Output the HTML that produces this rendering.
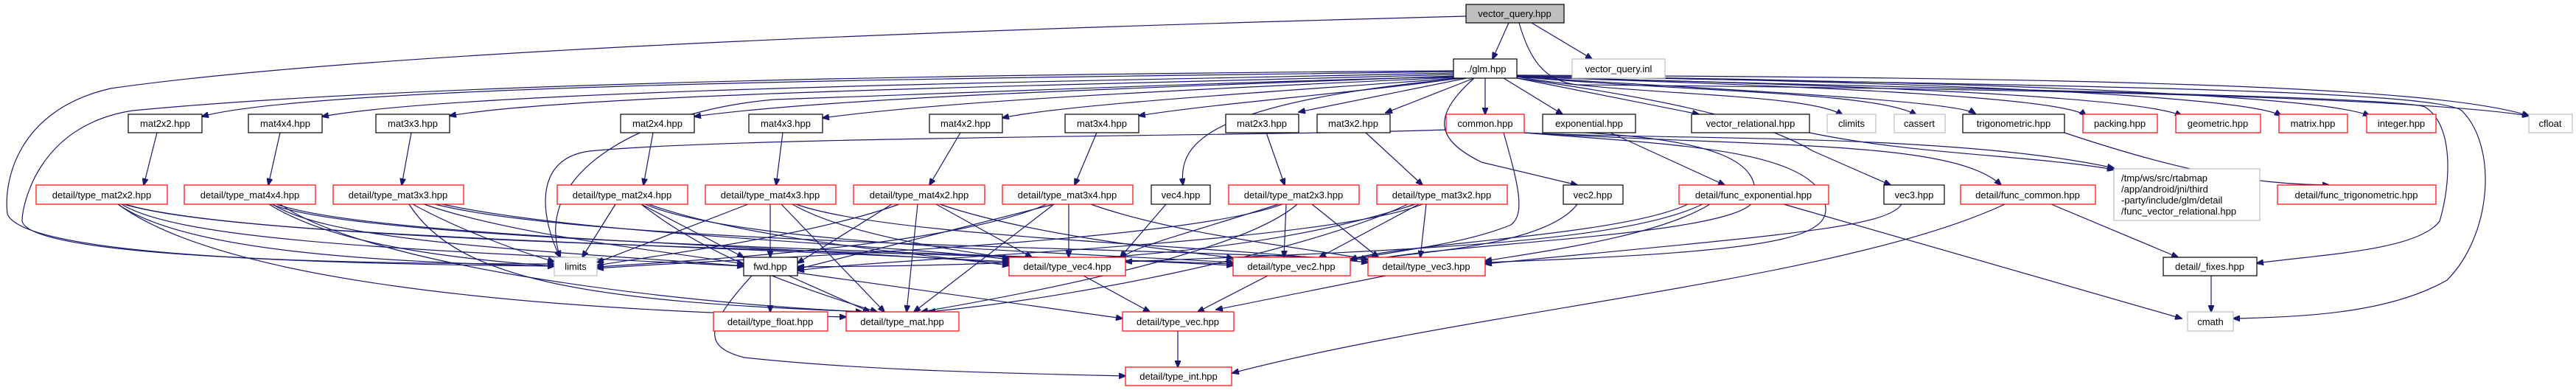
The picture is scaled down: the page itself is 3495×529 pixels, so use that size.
<!DOCTYPE html>
<html><head><meta charset="utf-8"><style>
html,body{margin:0;padding:0;background:#fff;}
svg{display:block;}
text{font-family:"Liberation Sans","DejaVu Sans",sans-serif;font-size:13px;fill:#000;}
.e{fill:none;stroke:#191970;stroke-width:1.2;}
.b{fill:#fff;stroke:#000;stroke-width:1.2;}
.r{fill:#fff;stroke:#ff0000;stroke-width:1.2;}
.g{fill:#fff;stroke:#bfbfbf;stroke-width:1.2;}
</style></head><body>
<svg width="3495" height="529" viewBox="0 0 3495 529" xmlns="http://www.w3.org/2000/svg">
<defs><marker id="a" markerWidth="10" markerHeight="8" refX="9" refY="4" orient="auto" markerUnits="userSpaceOnUse"><path d="M0,0 L10,4 L0,8z" fill="#191970" stroke="#191970"/></marker></defs>
<g marker-end="url(#a)" class="e">
<path class="e" d="M2047,31 L2025,80"/>
<path class="e" d="M2078,31 L2160,80"/>
<path class="e" d="M1989,22 C1300,40 500,70 150,120 C20,150 5,250 10,290 C30,345 400,358 752,361"/>
<path class="e" d="M2061,31 C2075,80 2095,110 2140,115 C2700,120 3250,130 3431,157"/>
<path class="e" d="M1972,97 C1500,105 450,110 274,158"/>
<path class="e" d="M1972,99 C1500,110 650,120 437,158"/>
<path class="e" d="M1972,101 C1500,115 800,125 610,157"/>
<path class="e" d="M1972,103 C1600,118 1150,130 942,158"/>
<path class="e" d="M1972,105 C1650,120 1300,135 1116,160"/>
<path class="e" d="M1975,106 C1800,120 1450,140 1360,160"/>
<path class="e" d="M1980,106 C1850,125 1650,140 1545,157"/>
<path class="e" d="M1990,106 L1762,152"/>
<path class="e" d="M2000,106 L1880,153"/>
<path class="e" d="M2015,106 L2015,155"/>
<path class="e" d="M2040,106 L2120,155"/>
<path class="e" d="M2058,106 L2305,155"/>
<path class="e" d="M2058,104 C2200,130 2450,125 2500,156"/>
<path class="e" d="M2058,104 C2300,125 2550,125 2600,156"/>
<path class="e" d="M2058,104 C2300,120 2650,135 2680,154"/>
<path class="e" d="M2058,104 C2400,115 2800,130 2830,157"/>
<path class="e" d="M2058,104 C2500,115 2900,130 2960,157"/>
<path class="e" d="M2058,103 C2600,110 3050,130 3095,157"/>
<path class="e" d="M2058,103 C2700,110 3150,130 3215,157"/>
<path class="e" d="M2058,102 C2800,105 3300,115 3431,157"/>
<path class="e" d="M1972,96 C1400,100 600,110 180,150 C50,170 30,280 30,300 C40,345 400,358 752,358"/>
<path class="e" d="M1980,104 C1700,110 1200,130 1050,135 C880,150 720,230 760,349"/>
<path class="e" d="M1985,106 C1620,140 1600,200 1605,251"/>
<path class="e" d="M2000,106 C1940,160 1950,190 2010,220 L2140,251"/>
<path class="e" d="M2058,106 C2300,140 2400,170 2460,205 L2565,251"/>
<path class="e" d="M2058,104 C2600,120 3250,130 3290,145 C3330,170 3325,250 3310,300 C3280,340 3150,345 3062,357"/>
<path class="e" d="M2058,103 C2700,115 3300,120 3340,150 C3390,200 3380,320 3320,380 C3250,420 3150,430 3030,432"/>
<path class="e" d="M213,180 L195,251"/>
<path class="e" d="M380,180 L364,251"/>
<path class="e" d="M558,180 L545,251"/>
<path class="e" d="M886,180 L873,251"/>
<path class="e" d="M1062,180 L1053,251"/>
<path class="e" d="M1303,180 L1261,251"/>
<path class="e" d="M1488,180 L1458,251"/>
<path class="e" d="M1718,180 L1743,251"/>
<path class="e" d="M1853,180 L1930,251"/>
<path class="e" d="M2185,180 L2340,251"/>
<path class="e" d="M2455,180 C2600,210 2750,210 2868,230"/>
<path class="e" d="M2801,180 C2950,230 3050,250 3160,251"/>
<path class="e" d="M1962,176 C1700,185 1000,185 800,205 C720,215 735,300 760,349"/>
<path class="e" d="M2068,180 C2250,190 2650,180 2868,228"/>
<path class="e" d="M2068,180 C2400,200 2650,190 2715,251"/>
<path class="e" d="M2068,180 C2250,195 2430,200 2470,260 C2500,320 2450,340 2015,356"/>
<path class="e" d="M2040,180 C2060,250 2070,290 2050,305 C1990,330 1900,340 1832,352"/>
<path class="e" d="M2150,180 C2330,190 2390,220 2380,270 C2370,320 1950,330 1856,354"/>
<path class="e" d="M2290,277 C2200,320 1900,330 1832,352"/>
<path class="e" d="M2310,277 C2200,330 1900,340 1527,355"/>
<path class="e" d="M2320,277 C2250,320 2100,340 2015,354"/>
<path class="e" d="M2420,277 L2960,432"/>
<path class="e" d="M2783,277 L2955,349"/>
<path class="e" d="M2720,277 C2500,380 2000,420 1672,506"/>
<path class="e" d="M3000,374 L3000,423"/>
<path class="e" d="M2140,277 C2100,330 1950,340 1856,352"/>
<path class="e" d="M2580,277 C2560,310 2400,320 2015,358"/>
<path class="e" d="M1582,277 L1520,349"/>
<path class="e" d="M160,277 C250,340 500,355 752,361"/>
<path class="e" d="M165,277 C250,330 600,340 1009,361"/>
<path class="e" d="M170,277 C300,320 900,330 1369,355"/>
<path class="e" d="M168,277 C350,330 1200,340 1673,358"/>
<path class="e" d="M160,277 C300,380 700,420 1148,430"/>
<path class="e" d="M365,277 C450,330 600,350 752,361"/>
<path class="e" d="M370,277 C450,330 750,340 1009,361"/>
<path class="e" d="M375,277 C500,320 1000,330 1369,357"/>
<path class="e" d="M368,277 C500,330 1300,340 1673,360"/>
<path class="e" d="M380,277 C500,360 900,410 1170,423"/>
<path class="e" d="M560,277 C620,310 700,340 752,355"/>
<path class="e" d="M575,277 C700,320 900,340 1009,358"/>
<path class="e" d="M600,277 C800,320 1200,330 1369,352"/>
<path class="e" d="M590,277 C800,330 1500,335 1856,352"/>
<path class="e" d="M555,277 C620,380 800,410 1180,423"/>
<path class="e" d="M835,277 L790,349"/>
<path class="e" d="M870,277 L1009,349"/>
<path class="e" d="M880,277 C1000,320 1200,340 1369,360"/>
<path class="e" d="M875,277 C1000,330 1400,340 1673,356"/>
<path class="e" d="M870,277 C950,340 1050,380 1190,423"/>
<path class="e" d="M1015,277 L810,356"/>
<path class="e" d="M1045,277 L1045,349"/>
<path class="e" d="M1060,277 L1200,423"/>
<path class="e" d="M1075,277 C1150,320 1300,340 1369,350"/>
<path class="e" d="M1080,277 C1200,320 1600,330 1856,356"/>
<path class="e" d="M1220,277 C1100,320 900,345 810,360"/>
<path class="e" d="M1210,277 L1082,357"/>
<path class="e" d="M1245,277 L1230,423"/>
<path class="e" d="M1270,277 L1400,349"/>
<path class="e" d="M1275,277 C1400,320 1600,340 1673,350"/>
<path class="e" d="M1420,277 C1300,330 1000,350 810,362"/>
<path class="e" d="M1430,277 L1082,365"/>
<path class="e" d="M1450,277 L1450,349"/>
<path class="e" d="M1430,277 L1240,423"/>
<path class="e" d="M1480,277 C1600,320 1800,340 1856,352"/>
<path class="e" d="M1740,277 C1600,330 1000,350 810,364"/>
<path class="e" d="M1745,277 L1742,349"/>
<path class="e" d="M1760,277 C1700,330 1500,380 1250,423"/>
<path class="e" d="M1780,277 L1870,349"/>
<path class="e" d="M1735,277 C1600,320 1500,345 1527,355"/>
<path class="e" d="M1930,277 C1800,330 1200,350 1082,367"/>
<path class="e" d="M1935,277 L1927,349"/>
<path class="e" d="M1925,277 L1790,349"/>
<path class="e" d="M1920,277 C1700,350 1400,360 1082,362"/>
<path class="e" d="M1910,277 C1800,330 1500,400 1260,423"/>
<path class="e" d="M1045,374 L1045,423"/>
<path class="e" d="M1070,374 L1180,423"/>
<path class="e" d="M1082,370 L1523,432"/>
<path class="e" d="M1020,374 C960,440 950,470 1010,485 C1150,500 1300,505 1527,510"/>
<path class="e" d="M1470,374 L1560,423"/>
<path class="e" d="M1720,374 L1625,423"/>
<path class="e" d="M1880,374 L1650,420"/>
<path class="e" d="M1598,449 L1598,498"/>
</g>
<rect x="1989" y="6" width="133" height="25" fill="#bfbfbf" stroke="#000" stroke-width="1.2"/><text x="2055" y="23" text-anchor="middle">vector_query.hpp</text>
<rect class="b" x="1972" y="80" width="86" height="26"/><text x="2015" y="98" text-anchor="middle">../glm.hpp</text>
<rect class="g" x="2133" y="80" width="126" height="26"/><text x="2196" y="98" text-anchor="middle">vector_query.inl</text>
<g>
<rect class="b" x="174" y="155" width="100" height="25"/><text x="224" y="172" text-anchor="middle">mat2x2.hpp</text>
<rect class="b" x="337" y="155" width="100" height="25"/><text x="387" y="172" text-anchor="middle">mat4x4.hpp</text>
<rect class="b" x="510" y="155" width="100" height="25"/><text x="560" y="172" text-anchor="middle">mat3x3.hpp</text>
<rect class="b" x="842" y="155" width="100" height="25"/><text x="892" y="172" text-anchor="middle">mat2x4.hpp</text>
<rect class="b" x="1016" y="155" width="100" height="25"/><text x="1066" y="172" text-anchor="middle">mat4x3.hpp</text>
<rect class="b" x="1261" y="155" width="99" height="25"/><text x="1310" y="172" text-anchor="middle">mat4x2.hpp</text>
<rect class="b" x="1445" y="155" width="100" height="25"/><text x="1495" y="172" text-anchor="middle">mat3x4.hpp</text>
<rect class="b" x="1663" y="155" width="99" height="25"/><text x="1712" y="172" text-anchor="middle">mat2x3.hpp</text>
<rect class="b" x="1787" y="155" width="99" height="25"/><text x="1836" y="172" text-anchor="middle">mat3x2.hpp</text>
<rect class="r" x="1962" y="155" width="106" height="25"/><text x="2015" y="172" text-anchor="middle">common.hpp</text>
<rect class="b" x="2093" y="155" width="126" height="25"/><text x="2156" y="172" text-anchor="middle">exponential.hpp</text>
<rect class="b" x="2295" y="155" width="160" height="25"/><text x="2375" y="172" text-anchor="middle">vector_relational.hpp</text>
<rect class="g" x="2479" y="155" width="66" height="25"/><text x="2512" y="172" text-anchor="middle">climits</text>
<rect class="g" x="2570" y="155" width="69" height="25"/><text x="2604" y="172" text-anchor="middle">cassert</text>
<rect class="b" x="2663" y="155" width="138" height="25"/><text x="2732" y="172" text-anchor="middle">trigonometric.hpp</text>
<rect class="r" x="2826" y="155" width="101" height="25"/><text x="2876" y="172" text-anchor="middle">packing.hpp</text>
<rect class="r" x="2952" y="155" width="115" height="25"/><text x="3009" y="172" text-anchor="middle">geometric.hpp</text>
<rect class="r" x="3092" y="155" width="93" height="25"/><text x="3138" y="172" text-anchor="middle">matrix.hpp</text>
<rect class="r" x="3211" y="155" width="94" height="25"/><text x="3258" y="172" text-anchor="middle">integer.hpp</text>
<rect class="g" x="3431" y="155" width="59" height="25"/><text x="3460" y="172" text-anchor="middle">cfloat</text>
</g>
<g>
<rect class="r" x="49" y="251" width="178" height="26"/><text x="138" y="269" text-anchor="middle">detail/type_mat2x2.hpp</text>
<rect class="r" x="250" y="251" width="178" height="26"/><text x="339" y="269" text-anchor="middle">detail/type_mat4x4.hpp</text>
<rect class="r" x="452" y="251" width="177" height="26"/><text x="540" y="269" text-anchor="middle">detail/type_mat3x3.hpp</text>
<rect class="r" x="756" y="251" width="177" height="26"/><text x="844" y="269" text-anchor="middle">detail/type_mat2x4.hpp</text>
<rect class="r" x="957" y="251" width="177" height="26"/><text x="1045" y="269" text-anchor="middle">detail/type_mat4x3.hpp</text>
<rect class="r" x="1158" y="251" width="178" height="26"/><text x="1247" y="269" text-anchor="middle">detail/type_mat4x2.hpp</text>
<rect class="r" x="1360" y="251" width="177" height="26"/><text x="1448" y="269" text-anchor="middle">detail/type_mat3x4.hpp</text>
<rect class="b" x="1562" y="251" width="80" height="26"/><text x="1602" y="269" text-anchor="middle">vec4.hpp</text>
<rect class="r" x="1667" y="251" width="177" height="26"/><text x="1755" y="269" text-anchor="middle">detail/type_mat2x3.hpp</text>
<rect class="r" x="1868" y="251" width="177" height="26"/><text x="1956" y="269" text-anchor="middle">detail/type_mat3x2.hpp</text>
<rect class="b" x="2121" y="251" width="81" height="26"/><text x="2161" y="269" text-anchor="middle">vec2.hpp</text>
<rect class="r" x="2278" y="251" width="203" height="26"/><text x="2379" y="269" text-anchor="middle">detail/func_exponential.hpp</text>
<rect class="b" x="2556" y="251" width="82" height="26"/><text x="2597" y="269" text-anchor="middle">vec3.hpp</text>
<rect class="r" x="2660" y="251" width="183" height="26"/><text x="2751" y="269" text-anchor="middle">detail/func_common.hpp</text>
<rect class="g" x="2868" y="229" width="198" height="70"/>
<text x="2878" y="246">/tmp/ws/src/rtabmap</text><text x="2878" y="261">/app/android/jni/third</text><text x="2878" y="276">-party/include/glm/detail</text><text x="2878" y="291">/func_vector_relational.hpp</text>
<rect class="r" x="3090" y="251" width="215" height="26"/><text x="3197" y="269" text-anchor="middle">detail/func_trigonometric.hpp</text>
</g>
<g>
<rect class="g" x="752" y="349" width="58" height="25"/><text x="781" y="366" text-anchor="middle">limits</text>
<rect class="b" x="1009" y="349" width="73" height="25"/><text x="1045" y="366" text-anchor="middle">fwd.hpp</text>
<rect class="r" x="1369" y="349" width="158" height="25"/><text x="1448" y="366" text-anchor="middle">detail/type_vec4.hpp</text>
<rect class="r" x="1673" y="349" width="159" height="25"/><text x="1752" y="366" text-anchor="middle">detail/type_vec2.hpp</text>
<rect class="r" x="1856" y="349" width="159" height="25"/><text x="1935" y="366" text-anchor="middle">detail/type_vec3.hpp</text>
<rect class="b" x="2935" y="349" width="127" height="25"/><text x="2998" y="366" text-anchor="middle">detail/_fixes.hpp</text>
<rect class="r" x="968" y="423" width="155" height="26"/><text x="1045" y="441" text-anchor="middle">detail/type_float.hpp</text>
<rect class="r" x="1148" y="423" width="153" height="26"/><text x="1224" y="441" text-anchor="middle">detail/type_mat.hpp</text>
<rect class="r" x="1523" y="423" width="151" height="26"/><text x="1598" y="441" text-anchor="middle">detail/type_vec.hpp</text>
<rect class="g" x="2968" y="423" width="62" height="26"/><text x="2999" y="441" text-anchor="middle">cmath</text>
<rect class="r" x="1527" y="498" width="144" height="25"/><text x="1599" y="515" text-anchor="middle">detail/type_int.hpp</text>
</g>
</svg>
</body></html>
